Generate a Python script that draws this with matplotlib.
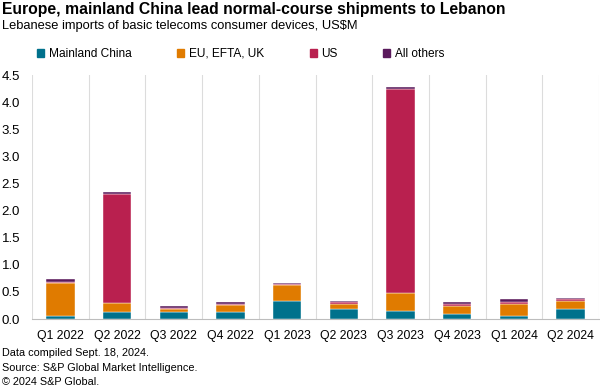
import numpy as np
import matplotlib.pyplot as plt
from matplotlib.patches import Patch

plt.rcParams['font.family'] = ['Liberation Sans', 'DejaVu Sans']

quarters = ["Q1 2022", "Q2 2022", "Q3 2022", "Q4 2022", "Q1 2023",
            "Q2 2023", "Q3 2023", "Q4 2023", "Q1 2024", "Q2 2024"]
china = [0.06, 0.12, 0.12, 0.135, 0.34, 0.18, 0.14, 0.085, 0.06, 0.18]
eu = [0.61, 0.17, 0.07, 0.12, 0.28, 0.10, 0.34, 0.15, 0.22, 0.16]
us = [0.01, 2.01, 0.02, 0.02, 0.02, 0.03, 3.755, 0.05, 0.035, 0.025]
others = [0.05, 0.035, 0.03, 0.03, 0.025, 0.025, 0.04, 0.03, 0.05, 0.025]

series = [("Mainland China", china, "#00718C"),
          ("EU, EFTA, UK", eu, "#E07B00"),
          ("US", us, "#B9204F"),
          ("All others", others, "#5A1A5C")]

fig = plt.figure(figsize=(6, 3.91), dpi=100)
ax = fig.add_axes([32 / 600, (391 - 319) / 391, 567 / 600, 244 / 391])

x = np.arange(len(quarters))
bottom = np.zeros(len(quarters))
for name, vals, col in series:
    ax.bar(x, vals, width=0.5, bottom=bottom, color=col, label=name,
           edgecolor="white", linewidth=0.3, zorder=3)
    bottom += np.array(vals)

ax.set_xlim(-0.5, len(quarters) - 0.5)
ax.set_ylim(0, 4.5)
yt = np.arange(0, 4.51, 0.5)
ax.set_yticks(yt)
ax.set_yticklabels([f"{v:.1f}" for v in yt], fontsize=9.5)
ax.set_xticks(x)
ax.set_xticklabels(quarters, fontsize=8.8)
ax.tick_params(length=0)
ax.tick_params(axis="x", pad=8)
ax.tick_params(axis="y", pad=8.6)

# separators between quarters
for s in np.arange(-0.5, len(quarters), 1.0):
    ax.axvline(s, color="#dcdcdc", linewidth=0.8, zorder=1)

for side in ["top", "right", "left"]:
    ax.spines[side].set_visible(False)
ax.spines["bottom"].set_color("#bdbdbd")
ax.spines["bottom"].set_zorder(4)

handles = [Patch(color=c, label=n) for n, _, c in series]
fig.legend(handles=handles, ncol=4, loc="center left",
           bbox_to_anchor=(37 / 600, 1 - 54 / 391), frameon=False,
           fontsize=8.6, handlelength=0.6, handleheight=0.6,
           handletextpad=0.4, columnspacing=3.8, borderaxespad=0,
           borderpad=0)

fig.text(0.003, 1 - 9.5 / 391, "Europe, mainland China lead normal-course shipments to Lebanon",
         fontsize=11.3, fontweight="bold", va="center", ha="left")
fig.text(0.003, 1 - 25.5 / 391, "Lebanese imports of basic telecoms consumer devices, US$M",
         fontsize=9.3, va="center", ha="left")

fig.text(0.003, 1 - 353 / 391, "Data compiled Sept. 18, 2024.", fontsize=7.8, va="center")
fig.text(0.003, 1 - 368 / 391, "Source: S&P Global Market Intelligence.", fontsize=7.8, va="center")
fig.text(0.003, 1 - 382 / 391, "© 2024 S&P Global.", fontsize=7.8, va="center")

fig.savefig("out.png", dpi=100)
